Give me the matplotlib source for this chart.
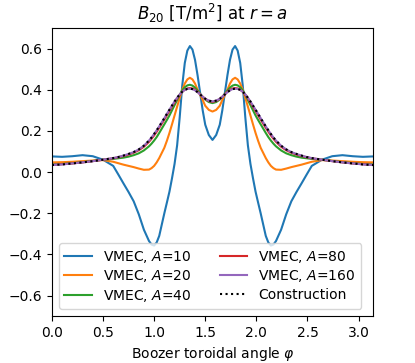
import matplotlib
matplotlib.use("Agg")
import matplotlib.pyplot as plt

# Boozer toroidal angle grid (denser near the peaks and troughs)
phi = [0.000, 0.100, 0.200, 0.300, 0.400, 0.500, 0.600, 0.650, 0.700, 0.750,
       0.800, 0.850, 0.900, 0.950, 0.975, 1.000, 1.025, 1.050, 1.100, 1.125,
       1.150, 1.175, 1.200, 1.225, 1.250, 1.275, 1.300, 1.325, 1.350, 1.375,
       1.400, 1.425, 1.450, 1.475, 1.500, 1.535, 1.571,
       1.607, 1.642, 1.667, 1.692, 1.717, 1.742, 1.767, 1.792, 1.817, 1.842,
       1.867, 1.892, 1.917, 1.942, 1.967, 1.992, 2.017, 2.042, 2.092, 2.117,
       2.142, 2.167, 2.192, 2.242, 2.292, 2.342, 2.392, 2.442, 2.492, 2.542,
       2.642, 2.742, 2.842, 2.942, 3.042, 3.142]

b20_A10 = [0.076, 0.074, 0.077, 0.082, 0.077, 0.060, 0.030, -0.012, -0.055, -0.097,
           -0.142, -0.205, -0.280, -0.335, -0.352, -0.357, -0.342, -0.310, -0.200, -0.148,
           -0.095, -0.030, 0.040, 0.130, 0.265, 0.420, 0.530, 0.590, 0.612, 0.595,
           0.545, 0.470, 0.385, 0.300, 0.230, 0.180, 0.156,
           0.180, 0.230, 0.300, 0.385, 0.470, 0.545, 0.595, 0.612, 0.590, 0.530,
           0.420, 0.265, 0.130, 0.040, -0.030, -0.095, -0.148, -0.200, -0.310, -0.342,
           -0.357, -0.352, -0.335, -0.280, -0.205, -0.142, -0.097, -0.055, -0.012, 0.030,
           0.060, 0.077, 0.082, 0.077, 0.074, 0.076]

b20_A20 = [0.047, 0.048, 0.050, 0.053, 0.056, 0.058, 0.050, 0.043, 0.036, 0.030,
           0.024, 0.017, 0.011, 0.012, 0.019, 0.030, 0.047, 0.068, 0.118, 0.152,
           0.190, 0.232, 0.275, 0.318, 0.360, 0.400, 0.430, 0.450, 0.458, 0.450,
           0.430, 0.400, 0.375, 0.350, 0.322, 0.302, 0.294,
           0.302, 0.322, 0.350, 0.375, 0.400, 0.430, 0.450, 0.458, 0.450, 0.430,
           0.400, 0.360, 0.318, 0.275, 0.232, 0.190, 0.152, 0.118, 0.068, 0.047,
           0.030, 0.019, 0.012, 0.011, 0.017, 0.024, 0.030, 0.036, 0.043, 0.050,
           0.058, 0.056, 0.053, 0.050, 0.048, 0.047]

b20_A40 = [0.037, 0.039, 0.043, 0.048, 0.054, 0.060, 0.064, 0.067, 0.070, 0.075,
           0.082, 0.091, 0.105, 0.125, 0.138, 0.153, 0.170, 0.190, 0.232, 0.253,
           0.275, 0.300, 0.325, 0.350, 0.375, 0.397, 0.412, 0.421, 0.424, 0.420,
           0.410, 0.396, 0.380, 0.365, 0.352, 0.340, 0.335,
           0.340, 0.352, 0.365, 0.380, 0.396, 0.410, 0.420, 0.424, 0.421, 0.412,
           0.397, 0.375, 0.350, 0.325, 0.300, 0.275, 0.253, 0.232, 0.190, 0.170,
           0.153, 0.138, 0.125, 0.105, 0.091, 0.082, 0.075, 0.070, 0.067, 0.064,
           0.060, 0.054, 0.048, 0.043, 0.039, 0.037]

b20_A80 = [0.035, 0.038, 0.042, 0.047, 0.053, 0.060, 0.067, 0.072, 0.078, 0.085,
           0.094, 0.106, 0.123, 0.147, 0.162, 0.178, 0.196, 0.215, 0.255, 0.276,
           0.297, 0.318, 0.338, 0.358, 0.375, 0.390, 0.400, 0.406, 0.408, 0.406,
           0.400, 0.390, 0.378, 0.366, 0.355, 0.345, 0.341,
           0.345, 0.355, 0.366, 0.378, 0.390, 0.400, 0.406, 0.408, 0.406, 0.400,
           0.390, 0.375, 0.358, 0.338, 0.318, 0.297, 0.276, 0.255, 0.215, 0.196,
           0.178, 0.162, 0.147, 0.123, 0.106, 0.094, 0.085, 0.078, 0.072, 0.067,
           0.060, 0.053, 0.047, 0.042, 0.038, 0.035]

b20_A160 = [0.034, 0.037, 0.042, 0.047, 0.053, 0.060, 0.068, 0.073, 0.080, 0.088,
            0.097, 0.110, 0.128, 0.153, 0.168, 0.185, 0.203, 0.222, 0.262, 0.283,
            0.303, 0.323, 0.343, 0.361, 0.377, 0.390, 0.399, 0.404, 0.405, 0.403,
            0.397, 0.388, 0.377, 0.366, 0.356, 0.347, 0.343,
            0.347, 0.356, 0.366, 0.377, 0.388, 0.397, 0.403, 0.405, 0.404, 0.399,
            0.390, 0.377, 0.361, 0.343, 0.323, 0.303, 0.283, 0.262, 0.222, 0.203,
            0.185, 0.168, 0.153, 0.128, 0.110, 0.097, 0.088, 0.080, 0.073, 0.068,
            0.060, 0.053, 0.047, 0.042, 0.037, 0.034]

b20_construction = [0.034, 0.037, 0.042, 0.047, 0.053, 0.060, 0.068, 0.073, 0.080, 0.088,
                    0.097, 0.110, 0.128, 0.153, 0.168, 0.185, 0.203, 0.222, 0.262, 0.283,
                    0.303, 0.323, 0.343, 0.361, 0.377, 0.390, 0.399, 0.404, 0.405, 0.403,
                    0.397, 0.388, 0.377, 0.366, 0.356, 0.347, 0.343,
                    0.347, 0.356, 0.366, 0.377, 0.388, 0.397, 0.403, 0.405, 0.404, 0.399,
                    0.390, 0.377, 0.361, 0.343, 0.323, 0.303, 0.283, 0.262, 0.222, 0.203,
                    0.185, 0.168, 0.153, 0.128, 0.110, 0.097, 0.088, 0.080, 0.073, 0.068,
                    0.060, 0.053, 0.047, 0.042, 0.037, 0.034]

fig = plt.figure(figsize=(4.15, 3.63), dpi=100)
ax = fig.add_axes([0.125, 0.129, 0.774, 0.794])

ax.plot(phi, b20_A10, label="VMEC, $A$=10")
ax.plot(phi, b20_A20, label="VMEC, $A$=20")
ax.plot(phi, b20_A40, label="VMEC, $A$=40")
ax.plot(phi, b20_A80, label="VMEC, $A$=80")
ax.plot(phi, b20_A160, label="VMEC, $A$=160")
ax.plot(phi, b20_construction, ":k", label="Construction")

ax.set_xlim(0, 3.14159)
ax.set_ylim(-0.7, 0.7)
ax.set_xticks([0.0, 0.5, 1.0, 1.5, 2.0, 2.5, 3.0])
ax.set_yticks([-0.6, -0.4, -0.2, 0.0, 0.2, 0.4, 0.6])
ax.set_title(r"$B_{20}$ [T/m$^2$] at $r=a$")
ax.set_xlabel(r"Boozer toroidal angle $\varphi$")
ax.legend(loc="lower left", ncol=2, labelspacing=0.25)

fig.savefig("out.png", dpi=100)
